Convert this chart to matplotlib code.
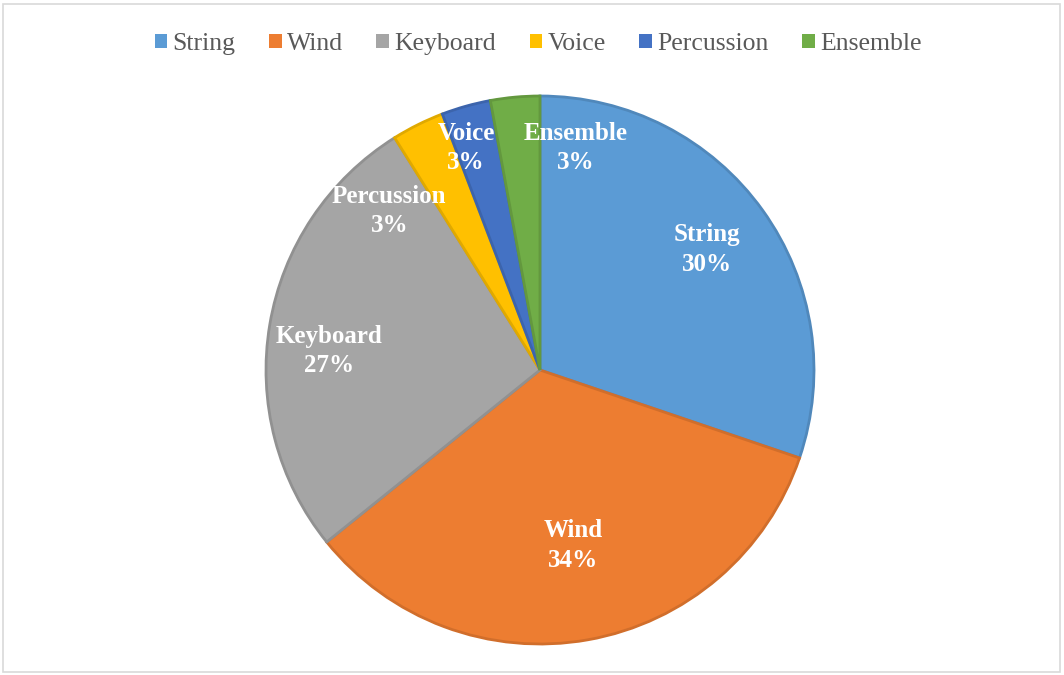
import matplotlib
matplotlib.use("Agg")
import matplotlib.pyplot as plt
from matplotlib.patches import Patch, Rectangle
from matplotlib.colors import to_rgb

# Share of students by instrument family
categories = ["String", "Wind", "Keyboard", "Voice", "Percussion", "Ensemble"]
values = [30.2, 34.0, 26.9, 3.1, 2.9, 2.9]
colors = ["#5B9BD5", "#ED7D31", "#A5A5A5", "#FFC000", "#4472C4", "#70AD47"]

# Where each data label sits, in pie-radius units from the centre
label_pos = {
    "String": (0.61, 0.44),
    "Wind": (0.12, -0.64),
    "Keyboard": (-0.77, 0.07),
    "Voice": (-0.27, 0.81),
    "Percussion": (-0.55, 0.58),
    "Ensemble": (0.13, 0.81),
}

plt.rcParams["font.family"] = ["Liberation Serif", "DejaVu Serif"]

W, H = 1064, 675
fig = plt.figure(figsize=(W / 100, H / 100), dpi=100)
fig.patch.set_facecolor("white")

cx, cy, r = 540, 370, 274
ax = fig.add_axes([(cx - r) / W, (H - cy - r) / H, 2 * r / W, 2 * r / H])


def darker(c, f=0.88):
    return tuple(v * f for v in to_rgb(c))


wedges, _ = ax.pie(values, colors=colors, startangle=90, counterclock=False,
                   radius=1.0, center=(0, 0),
                   wedgeprops=dict(linewidth=2.0))
for w, c in zip(wedges, colors):
    w.set_edgecolor(darker(c))

total = sum(values)
for name, v in zip(categories, values):
    x, y = label_pos[name]
    ax.text(x, y, f"{name}\n{v / total * 100:.0f}%", ha="center", va="center",
            color="white", fontsize=18, fontweight="bold", linespacing=1.35)

ax.set_xlim(-1.0, 1.0)
ax.set_ylim(-1.0, 1.0)
ax.set_aspect("auto")
ax.axis("off")

handles = [Patch(facecolor=c, edgecolor="none", label=n) for n, c in zip(categories, colors)]
fig.legend(handles=handles, loc="center", bbox_to_anchor=(538 / W, 1 - 44 / H),
           ncol=6, frameon=False, fontsize=18.5, handlelength=0.5, handleheight=0.5,
           handletextpad=0.2, columnspacing=1.3, labelcolor="#595959")

# light frame around the chart area
fig.add_artist(Rectangle((3 / W, 3 / H), 1 - 7 / W, 1 - 7 / H, transform=fig.transFigure,
                         fill=False, edgecolor="#D9D9D9", linewidth=1.2))

fig.savefig("out.png", dpi=100)
